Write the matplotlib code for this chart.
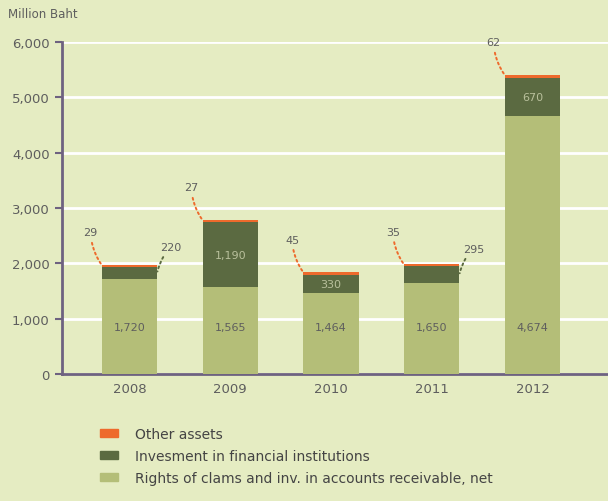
import numpy as np
import matplotlib.pyplot as plt
from matplotlib.patches import Patch

years = ['2008', '2009', '2010', '2011', '2012']
rights = [1720, 1565, 1464, 1650, 4674]
investment = [220, 1190, 330, 295, 670]
other = [29, 27, 45, 35, 62]
# which investment values sit outside the bar with a leader line
invest_outside = [True, False, False, True, False]

BG = '#E5ECC2'
LIGHT = '#B4BE78'
DARK = '#5B6A41'
ORANGE = '#EE6A2C'
SPINE = '#6E6280'
TXT = '#5E5E5E'

plt.rcParams['font.family'] = ['DejaVu Sans']

fig = plt.figure(figsize=(6.08, 5.02), dpi=100, facecolor=BG)
ax = fig.add_axes([0.102, 0.253, 0.898, 0.661], facecolor=BG)

x = np.arange(len(years))
width = 0.55
rights = np.array(rights)
investment = np.array(investment)
other = np.array(other)

ax.bar(x, rights, width, color=LIGHT, zorder=3)
ax.bar(x, investment, width, bottom=rights, color=DARK, zorder=3)
ax.bar(x, other, width, bottom=rights + investment, color=ORANGE, zorder=3)

ax.set_xlim(-0.67, 4.75)
ax.set_ylim(0, 6000)
ax.set_yticks(range(0, 6001, 1000))
ax.set_yticklabels(['0' if v == 0 else f'{v:,}' for v in range(0, 6001, 1000)],
                   fontsize=9.5, color=TXT)
ax.set_xticks(x)
ax.set_xticklabels(years, fontsize=9.5, color=TXT)
ax.tick_params(axis='y', length=5, width=1.5, color=SPINE, pad=4)
ax.tick_params(axis='x', length=0, pad=6)
ax.yaxis.grid(True, color='white', linewidth=2, zorder=1)
ax.set_axisbelow(True)
for s in ['top', 'right']:
    ax.spines[s].set_visible(False)
for s in ['left', 'bottom']:
    ax.spines[s].set_color(SPINE)
    ax.spines[s].set_linewidth(2)

leader = dict(arrowstyle='-', linestyle=':', linewidth=1.4, shrinkA=2, shrinkB=1,
              connectionstyle='arc3,rad=0.15')

for i in range(len(years)):
    left = x[i] - width / 2
    right = x[i] + width / 2
    total = rights[i] + investment[i] + other[i]

    # base segment label
    ax.text(x[i], 850, f'{rights[i]:,}', ha='center', va='center',
            fontsize=8, color=TXT, zorder=4)

    # investment segment label
    mid = rights[i] + investment[i] / 2
    if invest_outside[i]:
        ax.annotate(f'{investment[i]:,}', xy=(right, mid), xytext=(10, 15),
                    textcoords='offset points', ha='center', va='bottom',
                    fontsize=8, color=TXT,
                    arrowprops=dict(leader, color=DARK))
    else:
        ax.text(x[i], mid, f'{investment[i]:,}', ha='center', va='center',
                fontsize=8, color='#B9C09C', zorder=4)

    # other assets label
    ax.annotate(f'{other[i]:,}', xy=(left, total), xytext=(-8, 20),
                textcoords='offset points', ha='center', va='bottom',
                fontsize=8, color=TXT,
                arrowprops=dict(leader, color=ORANGE))

fig.text(0.013, 0.972, 'Million Baht', fontsize=8.5, color=TXT, va='center')

handles = [Patch(color=ORANGE), Patch(color=DARK), Patch(color=LIGHT)]
labels = ['Other assets', 'Invesment in financial institutions',
          'Rights of clams and inv. in accounts receivable, net']
fig.legend(handles, labels, loc='upper left', bbox_to_anchor=(0.155, 0.158),
           frameon=False, fontsize=10, labelcolor='#444444',
           handlelength=1.3, handleheight=0.5, handletextpad=1.2,
           labelspacing=0.55, borderaxespad=0)

fig.savefig('out.png', dpi=100, facecolor=BG)
